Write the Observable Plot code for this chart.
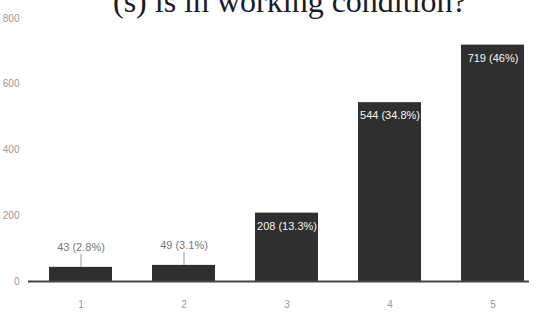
<!DOCTYPE html>
<html>
<head>
<meta charset="utf-8">
<script src="https://cdn.jsdelivr.net/npm/d3@7"></script>
<script src="https://cdn.jsdelivr.net/npm/@observablehq/plot@0.6"></script>
<style>
  html, body { margin: 0; padding: 0; background: #fff; }
  #wrap { position: relative; width: 537px; height: 324px; overflow: hidden; background: #fff; }
  #title { position: absolute; left: 113px; top: -15px; font-family: "Liberation Serif", "Times New Roman", serif; font-size: 32px; line-height: 1; color: #1a1a2a; white-space: nowrap; }
  #chart { position: absolute; left: 0; top: 0; }
</style>
</head>
<body>
<div id="wrap">
  <div id="title">(s) is in working condition?</div>
  <div id="chart"></div>
</div>
<script>
const categories = ["1", "2", "3", "4", "5"];
const counts = [43, 49, 208, 544, 719];
const labels = ["43 (2.8%)", "49 (3.1%)", "208 (13.3%)", "544 (34.8%)", "719 (46%)"];
const yTicks = [0, 200, 400, 600, 800];

const data = categories.map((c, i) => ({cat: c, v: counts[i], label: labels[i], inside: counts[i] > 100}));
const font = '"Liberation Sans", Arial, sans-serif';

const chart = Plot.plot({
  width: 537,
  height: 324,
  marginLeft: 28,
  marginRight: 8,
  marginTop: 18,
  marginBottom: 43,
  style: {fontFamily: font, background: "transparent"},
  x: {domain: categories, range: [49, 524], paddingInner: 0.39, paddingOuter: 0, label: null},
  y: {domain: [0, 800], ticks: yTicks, label: null},
  marks: [
    Plot.axisY({ticks: yTicks, tickSize: 0, tickPadding: 9, fontSize: 10, fill: "#999", label: null}),
    Plot.axisX({tickSize: 0, tickPadding: 19, fontSize: 10, fill: "#999", label: null}),
    Plot.barY(data, {x: "cat", y: "v", fill: "#2f2f2f"}),
    Plot.ruleY([0], {stroke: "#444", strokeWidth: 2}),
    Plot.ruleX(data.filter(d => !d.inside), {x: "cat", y1: "v", y2: d => d.v + 40, stroke: "#999", strokeWidth: 1}),
    Plot.text(data.filter(d => !d.inside), {x: "cat", y: "v", text: "label", dy: -20, fill: "#777", fontSize: 11}),
    Plot.text(data.filter(d => d.inside), {x: "cat", y: "v", text: "label", dy: 13, fill: "#f4f4f4", fontSize: 11})
  ]
});
document.getElementById("chart").appendChild(chart);
</script>
</body>
</html>
